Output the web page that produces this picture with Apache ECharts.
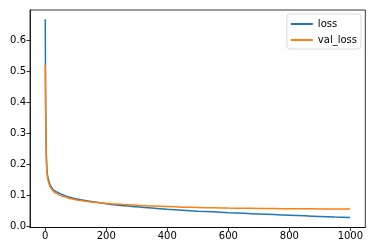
<!DOCTYPE html>
<html>
<head>
<meta charset="utf-8">
<script src="https://cdn.jsdelivr.net/npm/echarts@6/dist/echarts.min.js"></script>
<style>html,body{margin:0;padding:0;background:#fff}#c{width:375px;height:252px}</style>
</head>
<body>
<div id="c"></div>
<script>
const epochs = [0,1,2,3,4,5,6,8,10,12,15,20,25,30,40,50,60,80,100,120,150,180,200,250,300,350,400,450,500,550,600,650,700,750,800,850,900,950,999];
const loss = [0.669,0.45,0.33,0.26,0.22,0.195,0.178,0.163,0.155,0.147,0.138,0.128,0.121,0.116,0.111,0.106,0.102,0.095,0.090,0.086,0.081,0.077,0.074,0.068,0.064,0.060,0.056,0.053,0.050,0.048,0.045,0.043,0.041,0.039,0.037,0.035,0.033,0.031,0.030];
const valLoss = [0.522,0.40,0.30,0.24,0.205,0.185,0.170,0.155,0.146,0.139,0.131,0.122,0.116,0.111,0.106,0.101,0.097,0.091,0.087,0.084,0.080,0.077,0.075,0.072,0.069,0.067,0.065,0.063,0.062,0.061,0.060,0.0595,0.059,0.0585,0.058,0.0577,0.0573,0.057,0.0567];
const xTicks = [0,200,400,600,800,1000];
const yTicks = [0,0.1,0.2,0.3,0.4,0.5,0.6];

const font = 'DejaVu Sans';
const chart = echarts.init(document.getElementById('c'), null, {renderer:'canvas'});
chart.setOption({
  animation:false,
  grid:{left:30,right:9.7,top:10,bottom:24.5,show:true,borderColor:'#000',borderWidth:0.8,backgroundColor:'#fff'},
  legend:{
    orient:'vertical', right:14, top:14,
    backgroundColor:'#fff', borderColor:'#d0d0d0', borderWidth:0.8, borderRadius:3,
    padding:[5,4,4,4], itemGap:6, itemWidth:22, itemHeight:2, icon:'rect',
    textStyle:{fontFamily:font,fontSize:10,color:'#000',padding:[0,0,0,0]},
    data:['loss','val_loss']
  },
  xAxis:{
    type:'value', min:-50, max:1049,
    axisLine:{show:true,onZero:false,lineStyle:{color:'#000',width:0.8}},
    axisTick:{show:true,length:3.5,customValues:xTicks,lineStyle:{color:'#000',width:0.8}},
    axisLabel:{customValues:xTicks,fontFamily:font,fontSize:10,color:'#000',margin:4,formatter:v=>String(v)},
    splitLine:{show:false}
  },
  yAxis:{
    type:'value', min:-0.0026, max:0.699,
    axisLine:{show:true,onZero:false,lineStyle:{color:'#000',width:0.8}},
    axisTick:{show:true,length:3.5,customValues:yTicks,lineStyle:{color:'#000',width:0.8}},
    axisLabel:{customValues:yTicks,fontFamily:font,fontSize:10,color:'#000',margin:4,formatter:v=>v.toFixed(1)},
    splitLine:{show:false}
  },
  series:[
    {name:'loss',type:'line',showSymbol:false,symbol:'none',smooth:0.3,
     data:epochs.map((e,i)=>[e,loss[i]]),
     lineStyle:{color:'#1f77b4',width:1.5},itemStyle:{color:'#1f77b4'}},
    {name:'val_loss',type:'line',showSymbol:false,symbol:'none',smooth:0.3,
     data:epochs.map((e,i)=>[e,valLoss[i]]),
     lineStyle:{color:'#ff7f0e',width:1.5},itemStyle:{color:'#ff7f0e'}}
  ]
});
</script>
</body>
</html>
